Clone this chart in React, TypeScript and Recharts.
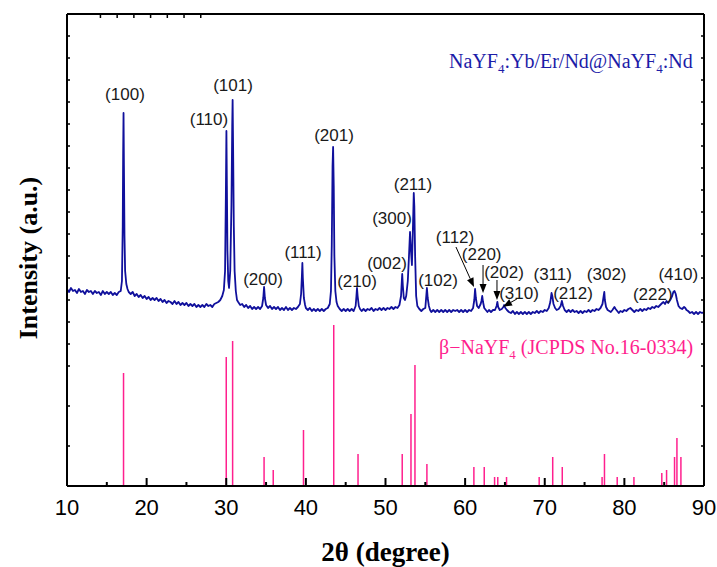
import React from 'react';
import { ComposedChart, Line, XAxis, YAxis, ReferenceLine, Scatter } from 'recharts';

// Measured XRD pattern: [2θ (deg), intensity (a.u.)]
const pattern: [number, number][] = [
  [10, 197], [10.25, 194], [10.5, 198], [10.75, 195], [11, 196], [11.25, 193], [11.5, 197], [11.75, 194],
  [12, 195], [12.25, 192], [12.5, 196], [12.75, 194], [13, 195], [13.25, 192], [13.5, 195], [13.75, 193],
  [14, 194], [14.25, 191], [14.5, 195], [14.75, 192], [15, 194], [15.25, 192], [15.5, 194], [15.75, 191],
  [16, 193], [16.25, 191], [16.5, 194], [16.75, 195],
  [16.9, 205], [17.0, 260], [17.05, 330], [17.1, 373], [17.15, 320], [17.22, 250], [17.3, 215], [17.45, 202], [17.6, 197],
  [17.75, 194], [18, 192], [18.25, 194], [18.5, 190], [18.75, 192], [19, 189], [19.25, 191], [19.5, 188], [19.75, 190],
  [20, 187], [20.25, 189], [20.5, 186], [20.75, 188], [21, 186], [21.25, 188], [21.5, 185], [21.75, 187],
  [22, 184], [22.25, 186], [22.5, 183], [22.75, 185], [23, 184], [23.25, 182], [23.5, 185], [23.75, 182],
  [24, 184], [24.25, 181], [24.5, 183], [24.75, 181], [25, 183], [25.25, 180], [25.5, 182], [25.75, 180],
  [26, 182], [26.25, 179], [26.5, 181], [26.75, 179], [27, 181], [27.25, 179], [27.5, 182], [27.75, 180],
  [28, 181], [28.25, 179], [28.5, 182], [28.75, 183], [29, 184], [29.25, 186], [29.5, 190], [29.7, 196],
  [29.85, 215], [29.95, 290], [30.02, 355], [30.08, 300], [30.15, 235], [30.25, 205], [30.35, 198],
  [30.5, 215], [30.65, 280], [30.75, 360], [30.8, 386], [30.86, 340], [30.95, 260], [31.05, 215], [31.2, 195],
  [31.35, 186], [31.5, 184], [31.75, 181], [32, 182], [32.25, 179], [32.5, 181], [32.75, 178], [33, 180],
  [33.25, 177], [33.5, 179], [33.75, 177], [34, 179], [34.25, 177], [34.5, 180],
  [34.65, 188], [34.75, 199], [34.85, 188], [35, 181],
  [35.25, 178], [35.5, 180], [35.75, 177], [36, 179], [36.25, 177], [36.5, 179], [36.75, 176], [37, 178],
  [37.25, 176], [37.5, 179], [37.75, 176], [38, 178], [38.25, 176], [38.5, 178], [38.75, 177], [39, 179],
  [39.25, 182], [39.4, 192], [39.5, 210], [39.56, 223], [39.62, 208], [39.75, 188], [39.9, 181],
  [40, 178], [40.25, 176], [40.5, 178], [40.75, 175], [41, 177], [41.25, 175], [41.5, 177], [41.75, 175],
  [42, 177], [42.25, 175], [42.5, 177], [42.75, 178], [43, 182], [43.15, 195], [43.25, 240],
  [43.35, 320], [43.42, 339], [43.5, 300], [43.58, 230], [43.7, 195], [43.85, 184], [44, 180],
  [44.25, 177], [44.5, 175], [44.75, 177], [45, 175], [45.25, 177], [45.5, 175], [45.75, 177], [46, 175],
  [46.25, 180], [46.35, 190], [46.42, 198], [46.5, 190], [46.65, 180], [46.8, 177],
  [47, 175], [47.25, 177], [47.5, 175], [47.75, 177], [48, 176], [48.25, 178], [48.5, 175], [48.75, 177],
  [49, 176], [49.25, 178], [49.5, 176], [49.75, 178], [50, 176], [50.25, 178], [50.5, 177], [50.75, 179],
  [51, 177], [51.25, 179], [51.5, 178], [51.75, 181], [51.95, 190],
  [52.05, 205], [52.1, 212], [52.18, 200], [52.3, 188], [52.45, 186],
  [52.6, 190], [52.8, 205], [52.95, 230], [53.08, 254], [53.2, 235], [53.32, 221],
  [53.45, 260], [53.55, 293], [53.62, 280], [53.72, 230], [53.85, 190], [54, 180],
  [54.25, 177], [54.5, 175], [54.75, 177], [55, 178], [55.1, 188], [55.2, 198], [55.3, 188], [55.45, 180],
  [55.6, 176], [55.75, 174], [56, 176], [56.25, 174], [56.5, 176], [56.75, 174], [57, 176], [57.25, 174],
  [57.5, 176], [57.75, 174], [58, 176], [58.25, 174], [58.5, 176], [58.75, 175], [59, 176], [59.25, 174],
  [59.5, 176], [59.75, 174], [60, 176], [60.25, 174], [60.5, 176], [60.75, 175], [61, 178], [61.15, 186],
  [61.25, 197], [61.35, 188], [61.5, 180], [61.7, 178], [61.95, 182],
  [62.05, 185], [62.15, 190], [62.25, 184], [62.4, 178], [62.6, 176], [62.8, 174],
  [63, 176], [63.25, 174], [63.5, 176], [63.75, 176], [63.95, 180], [64.05, 184], [64.15, 179], [64.35, 176],
  [64.6, 177], [64.8, 179], [64.9, 181], [65.05, 178], [65.25, 176], [65.5, 174], [65.75, 173],
  [66, 175], [66.25, 172], [66.5, 174], [66.75, 172], [67, 174], [67.25, 172], [67.5, 174], [67.75, 172],
  [68, 174], [68.25, 172], [68.5, 174], [68.75, 173], [69, 175], [69.25, 173], [69.5, 175], [69.75, 174],
  [70, 176], [70.25, 175], [70.5, 178], [70.7, 184], [70.85, 193], [70.95, 190], [71.1, 182], [71.3, 178],
  [71.5, 176], [71.75, 177], [72.0, 180], [72.15, 185], [72.3, 180], [72.5, 176], [72.75, 174],
  [73, 176], [73.25, 174], [73.5, 176], [73.75, 174], [74, 175], [74.25, 173], [74.5, 175], [74.75, 173],
  [75, 175], [75.25, 174], [75.5, 176], [75.75, 174], [76, 176], [76.25, 175], [76.5, 177], [76.75, 176],
  [77, 178], [77.25, 182], [77.4, 190], [77.48, 194], [77.55, 186], [77.7, 179], [77.9, 176],
  [78.1, 175], [78.3, 174], [78.5, 176], [78.75, 179], [78.9, 177], [79.1, 175], [79.3, 173], [79.5, 175],
  [79.75, 174], [80, 176], [80.25, 175], [80.5, 177], [80.75, 178], [81, 176], [81.25, 174], [81.5, 176],
  [81.75, 175], [82, 177], [82.25, 175], [82.5, 177], [82.75, 176], [83, 178], [83.25, 177], [83.5, 179],
  [83.75, 178], [84, 180], [84.25, 179], [84.5, 181], [84.75, 183], [84.9, 184], [85.1, 182], [85.3, 185],
  [85.5, 183], [85.75, 186], [86, 190], [86.15, 194], [86.3, 195], [86.45, 192], [86.6, 186], [86.8, 180],
  [87, 178], [87.25, 177], [87.5, 179], [87.65, 178], [87.8, 176], [88, 175], [88.25, 173], [88.5, 174],
  [88.75, 172], [89, 174], [89.25, 172], [89.5, 174], [89.75, 173], [90, 174],
];

// JCPDS No.16-0334 reference lines
const refPos = [17.1, 30.0, 30.8, 34.75, 35.9, 39.7, 43.5, 46.55, 52.1, 53.2, 53.7, 55.2, 61.1, 62.4, 63.7, 64.1, 65.2, 69.3, 71.0, 72.2, 77.2, 77.5, 79.1, 81.2, 84.7, 85.3, 86.3, 86.6, 87.1];
const refInt = [113, 129, 145, 29, 16, 56, 161, 32, 32, 72, 121, 22, 19, 19, 9, 9, 9, 9, 29, 19, 9, 32, 9, 9, 13, 16, 29, 48, 29];

// Peak (hkl) labels
const hklText = ['(100)', '(110)', '(101)', '(200)', '(111)', '(201)', '(210)', '(002)', '(300)', '(211)', '(102)', '(112)', '(220)', '(202)', '(310)', '(311)', '(212)', '(302)', '(222)', '(410)'];
const hklX = [17.28, 27.83, 30.85, 34.62, 39.64, 43.53, 46.42, 50.19, 50.82, 53.45, 56.59, 58.73, 62.08, 64.88, 66.77, 71.0, 73.55, 77.78, 83.56, 86.77];
const hklY = [392, 367, 401, 207, 234, 351, 205, 223, 268, 302, 206, 249, 232, 214, 193, 212, 193, 212, 192, 212];

// Arrows pointing to small peaks
const arrowFromX = [58.85, 62.25, 64.0, 66.5];
const arrowFromY = [239, 221, 206, 187];
const arrowToX = [61.11, 62.25, 64.0, 64.76];
const arrowToY = [199, 193, 186, 179.3];

const xTicks = [10, 15, 20, 25, 30, 35, 40, 45, 50, 55, 60, 65, 70, 75, 80, 85, 90];
const topTicks = [20, 30, 40, 50, 60, 70, 80];
const yTicks = [40, 80, 120, 142, 164, 186, 208, 230, 252, 274, 296, 318, 340, 362, 384, 406, 428, 450];

const BLUE = '#10109c';
const PINK = '#ff1f8e';
const SANS = '"Liberation Sans", Arial, Helvetica, sans-serif';
const SERIF = '"Liberation Serif", "Times New Roman", serif';

const rows = pattern.map(([x, v]) => ({ x, v }));
const labelRows = hklText.map((t, i) => ({ x: hklX[i], v: hklY[i], t }));

const BottomTick = (p: any) => {
  const { x, y, payload } = p;
  const val = payload.value;
  const major = val % 10 === 0;
  return (
    <g>
      {val !== 10 && val !== 90 && (
        <line x1={x} x2={x} y1={y} y2={y - (major ? 8 : 4)} stroke="#000" strokeWidth={2} />
      )}
      {major && (
        <text x={x} y={y + 29} textAnchor="middle" fontSize={22} fontFamily={SANS} fill="#000">
          {val}
        </text>
      )}
    </g>
  );
};

const TopTick = (p: any) => {
  const { x, y } = p;
  return <line x1={x} x2={x} y1={y} y2={y + 4} stroke="#000" strokeWidth={1.5} />;
};

const LeftTick = (p: any) => {
  const { x, y } = p;
  return <line x1={x} x2={x + 3} y1={y} y2={y} stroke="#000" strokeWidth={1.5} />;
};

const RightTick = (p: any) => {
  const { x, y } = p;
  return <line x1={x} x2={x - 3} y1={y} y2={y} stroke="#000" strokeWidth={1.5} />;
};

const LabelShape = (p: any) => (
  <text
    x={p.cx}
    y={p.cy}
    textAnchor="middle"
    dominantBaseline="central"
    fontSize={17}
    fontFamily={SANS}
    fill="#1a1a1a"
  >
    {p.payload.t}
  </text>
);

const ArrowShape = (p: any) => {
  const { x1, y1, x2, y2 } = p;
  const ang = Math.atan2(y2 - y1, x2 - x1);
  const L = 9;
  const W = 3.5;
  const bx = x2 - L * Math.cos(ang);
  const by = y2 - L * Math.sin(ang);
  const px = -Math.sin(ang) * W;
  const py = Math.cos(ang) * W;
  return (
    <g>
      <line x1={x1} y1={y1} x2={bx} y2={by} stroke="#000" strokeWidth={1} />
      <polygon points={`${x2},${y2} ${bx + px},${by + py} ${bx - px},${by - py}`} fill="#000" />
    </g>
  );
};

export default function App() {
  return (
    <div style={{ position: 'absolute', left: 0, top: 0, width: 717, height: 567, background: '#fff' }}>
      <ComposedChart
        width={717}
        height={567}
        data={rows}
        margin={{ top: 13, right: 12, bottom: 80, left: 66 }}
      >
        <XAxis
          dataKey="x"
          type="number"
          domain={[10, 90]}
          allowDataOverflow
          ticks={xTicks}
          interval={0}
          tickSize={0}
          tickMargin={0}
          tickLine={false}
          tick={<BottomTick />}
          axisLine={{ stroke: '#000', strokeWidth: 2 }}
          height={1}
        />
        <XAxis
          xAxisId="top"
          orientation="top"
          type="number"
          domain={[10, 90]}
          allowDataOverflow
          ticks={topTicks}
          interval={0}
          tickSize={0}
          tickMargin={0}
          tickLine={false}
          tick={<TopTick />}
          axisLine={{ stroke: '#000', strokeWidth: 2 }}
          height={1}
        />
        <YAxis
          type="number"
          domain={[0, 472]}
          allowDataOverflow
          ticks={yTicks}
          interval={0}
          tickSize={0}
          tickMargin={0}
          tickLine={false}
          tick={<LeftTick />}
          axisLine={{ stroke: '#000', strokeWidth: 2 }}
          width={1}
        />
        <YAxis
          yAxisId="right"
          orientation="right"
          type="number"
          domain={[0, 472]}
          allowDataOverflow
          ticks={yTicks}
          interval={0}
          tickSize={0}
          tickMargin={0}
          tickLine={false}
          tick={<RightTick />}
          axisLine={{ stroke: '#000', strokeWidth: 2 }}
          width={1}
        />
        {refPos.map((x, i) => (
          <ReferenceLine
            key={'r' + i}
            segment={[{ x, y: 0 }, { x, y: refInt[i] }]}
            stroke={PINK}
            strokeWidth={1.5}
            ifOverflow="visible"
          />
        ))}
        <Line
          dataKey="v"
          type="linear"
          dot={false}
          stroke={BLUE}
          strokeWidth={1.8}
          strokeLinejoin="round"
          isAnimationActive={false}
        />
        {arrowFromX.map((x, i) => (
          <ReferenceLine
            key={'a' + i}
            segment={[{ x, y: arrowFromY[i] }, { x: arrowToX[i], y: arrowToY[i] }]}
            ifOverflow="visible"
            shape={<ArrowShape />}
          />
        ))}
        <Scatter data={labelRows} dataKey="v" shape={<LabelShape />} isAnimationActive={false} />
        <text x={449} y={68} fontFamily={SERIF} fontSize={20} fill="#1c1ca8">
          NaYF<tspan fontSize={13} dy={5}>4</tspan>
          <tspan dy={-5}>:Yb/Er/Nd@NaYF</tspan>
          <tspan fontSize={13} dy={5}>4</tspan>
          <tspan dy={-5}>:Nd</tspan>
        </text>
        <text x={439} y={354} fontFamily={SERIF} fontSize={20} fill={PINK}>
          β−NaYF<tspan fontSize={13} dy={5}>4</tspan>
          <tspan dy={-5}> (JCPDS No.16-0334)</tspan>
        </text>
        <text
          x={385.5}
          y={561}
          textAnchor="middle"
          fontFamily={SERIF}
          fontWeight="bold"
          fontSize={27}
          fill="#000"
        >
          2θ (degree)
        </text>
        <text
          transform="translate(37, 258) rotate(-90)"
          textAnchor="middle"
          fontFamily={SERIF}
          fontWeight="bold"
          fontSize={26}
          fill="#000"
        >
          Intensity (a.u.)
        </text>
      </ComposedChart>
    </div>
  );
}
